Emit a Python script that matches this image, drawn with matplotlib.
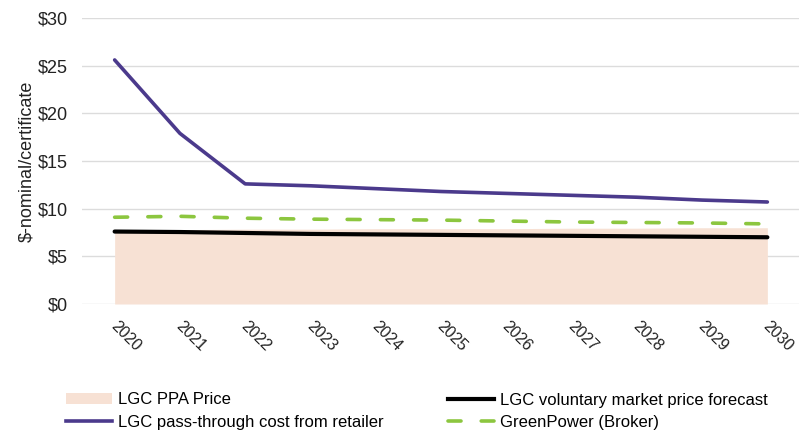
import matplotlib
matplotlib.use("Agg")
import matplotlib.pyplot as plt
from matplotlib.patches import Patch
from matplotlib.lines import Line2D
import matplotlib.transforms as mtransforms

plt.rcParams['font.family'] = ['Liberation Sans', 'DejaVu Sans']

years = ['2020', '2021', '2022', '2023', '2024', '2025', '2026', '2027', '2028', '2029', '2030']
ppa_price = [7.8, 7.8, 7.85, 7.85, 7.9, 7.9, 7.9, 7.95, 7.95, 8.0, 8.0]
pass_through = [25.6, 17.9, 12.6, 12.4, 12.1, 11.8, 11.6, 11.4, 11.2, 10.9, 10.7]
voluntary = [7.6, 7.55, 7.45, 7.35, 7.3, 7.25, 7.2, 7.15, 7.1, 7.05, 7.0]
greenpower = [9.1, 9.2, 9.0, 8.9, 8.85, 8.8, 8.7, 8.6, 8.55, 8.5, 8.4]
yticks = [0, 5, 10, 15, 20, 25, 30]
ytick_labels = ['$0', '$5', '$10', '$15', '$20', '$25', '$30']

c_ppa = '#f7e1d4'
c_pass = '#4b3a8c'
c_vol = '#000000'
c_green = '#8cc63f'

fig = plt.figure(figsize=(7.99, 4.32), dpi=100)
ax = fig.add_axes([82/799, 1 - 304/432, (800 - 82)/799, (304 - 18)/432])

x = list(range(len(years)))
ax.fill_between(x, 0, ppa_price, color=c_ppa, linewidth=0, zorder=1)
ax.plot(x, voluntary, color=c_vol, lw=3.0, zorder=3, solid_capstyle='round')
ax.plot(x, greenpower, color=c_green, lw=2.6, zorder=3, dashes=(3.6, 5.6), dash_capstyle='round')
ax.plot(x, pass_through, color=c_pass, lw=2.6, zorder=4, solid_capstyle='round')

ax.set_xlim(-0.5, len(years) - 0.5)
ax.set_ylim(0, 30)
ax.set_yticks(yticks)
ax.set_yticklabels(ytick_labels, fontsize=13, color='#222222')
ax.set_xticks(x)
ax.set_xticklabels([])

# rotated category labels
base = mtransforms.blended_transform_factory(ax.transData, ax.transAxes)
off = mtransforms.ScaledTranslation(11/100, -32/100, fig.dpi_scale_trans)
for xi, yr in zip(x, years):
    ax.text(xi, 0, yr, transform=base + off, rotation=-45, ha='center', va='center',
            fontsize=11.5, color='#222222', rotation_mode='default', clip_on=False)

ax.yaxis.grid(True, color='#dcdcdc', lw=1.0, zorder=0)
ax.set_axisbelow(True)
for s in ax.spines.values():
    s.set_visible(False)
ax.tick_params(axis='both', length=0, pad=10)
ax.set_ylabel('$-nominal/certificate', fontsize=13, color='#222222', labelpad=2)

handles = [
    Patch(facecolor=c_ppa, edgecolor='none'),
    Line2D([], [], color=c_pass, lw=2.6),
    Line2D([], [], color=c_vol, lw=3.0),
    Line2D([], [], color=c_green, lw=2.6, dashes=(3.6, 5.6), dash_capstyle='round'),
]
labels = ['LGC PPA Price', 'LGC pass-through cost from retailer',
          'LGC voluntary market price forecast', 'GreenPower (Broker)']
fig.legend(handles, labels, ncol=2, loc='lower left', bbox_to_anchor=(66/799, 2/432),
           frameon=False, fontsize=12, handlelength=2.75, handletextpad=0.35,
           columnspacing=3.9, labelspacing=0.45, borderaxespad=0, borderpad=0,
           handleheight=0.6)

fig.savefig('out.png', dpi=100)
